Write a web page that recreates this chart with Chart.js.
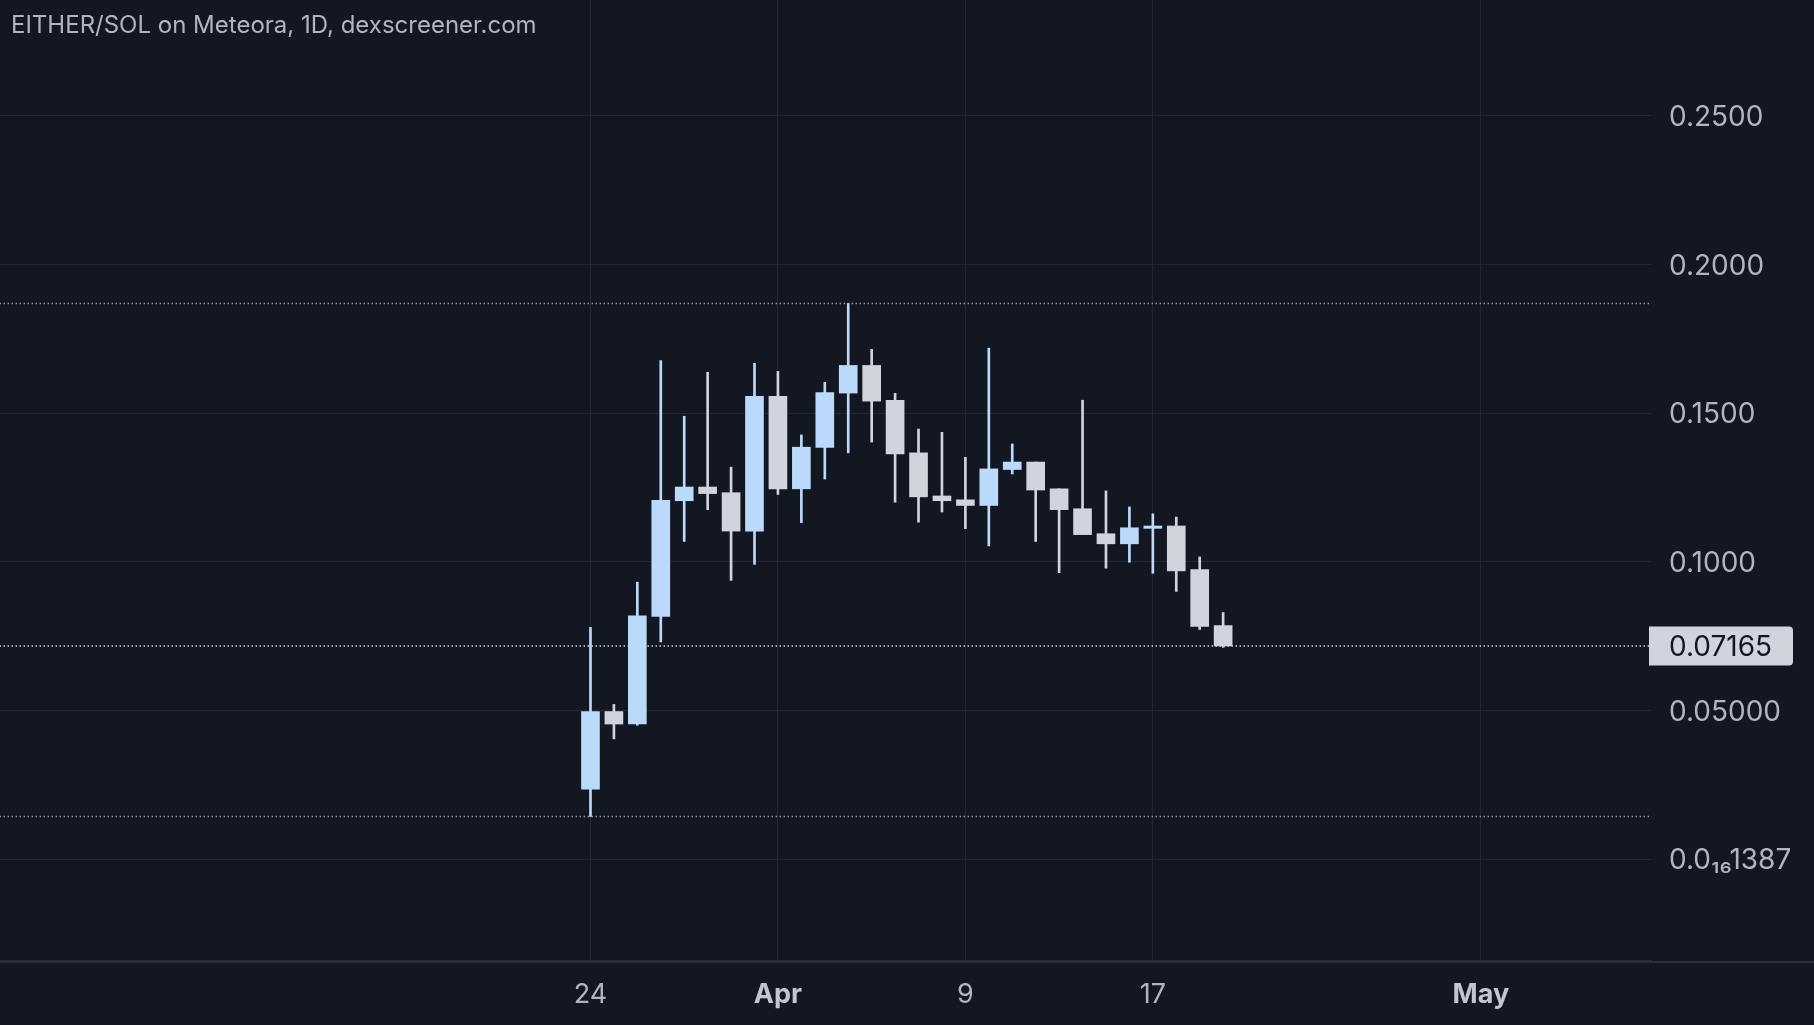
<!DOCTYPE html>
<html>
<head>
<meta charset="utf-8">
<title>EITHER/SOL</title>
<script src="https://cdn.jsdelivr.net/npm/chart.js@4.4.1/dist/chart.umd.min.js"></script>
<style>
  html, body { margin: 0; padding: 0; background: #131722; }
  #wrap { width: 1814px; height: 1025px; position: relative; }
</style>
</head>
<body>
<div id="wrap"><canvas id="myChart"></canvas></div>
<script>
// dias desde el 24 de marzo
const dias = [0, 1, 2, 3, 4, 5, 6, 7, 8, 9, 10, 11, 12, 13, 14, 15, 16, 17, 18, 19, 20, 21, 22, 23, 24, 25, 26, 27];
const fechas = ["Mar 24", "Mar 25", "Mar 26", "Mar 27", "Mar 28", "Mar 29", "Mar 30", "Mar 31",
  "Apr 1", "Apr 2", "Apr 3", "Apr 4", "Apr 5", "Apr 6", "Apr 7", "Apr 8", "Apr 9", "Apr 10",
  "Apr 11", "Apr 12", "Apr 13", "Apr 14", "Apr 15", "Apr 16", "Apr 17", "Apr 18", "Apr 19", "Apr 20"];
const apertura = [0.0235, 0.0496, 0.0454, 0.0816, 0.1205, 0.1251, 0.1232, 0.1103, 0.1556, 0.1245,
  0.1384, 0.1567, 0.1660, 0.1543, 0.1366, 0.1221, 0.1208, 0.1189, 0.1310, 0.1335,
  0.1245, 0.1178, 0.1094, 0.1060, 0.1112, 0.1120, 0.0973, 0.0785];
const maximo = [0.0779, 0.0520, 0.0931, 0.1676, 0.1489, 0.1637, 0.1318, 0.1667, 0.1640, 0.1426,
  0.1603, 0.1868, 0.1714, 0.1566, 0.1446, 0.1435, 0.1351, 0.1718, 0.1396, 0.1335,
  0.1245, 0.1543, 0.1238, 0.1184, 0.1161, 0.1150, 0.1016, 0.0829];
const minimo = [0.0143, 0.0404, 0.0450, 0.0730, 0.1068, 0.1175, 0.0937, 0.0991, 0.1226, 0.1131,
  0.1278, 0.1366, 0.1402, 0.1200, 0.1133, 0.1167, 0.1111, 0.1053, 0.1295, 0.1068,
  0.0963, 0.1091, 0.0978, 0.0998, 0.0961, 0.0900, 0.0772, 0.07120];
const cierre = [0.0496, 0.0454, 0.0818, 0.1206, 0.1251, 0.1229, 0.1103, 0.1556, 0.1245, 0.1385,
  0.1569, 0.1660, 0.1540, 0.1362, 0.1218, 0.1205, 0.1189, 0.1312, 0.1335, 0.1241,
  0.1175, 0.1091, 0.1060, 0.1114, 0.1120, 0.0969, 0.0782, 0.07165];

const diasTicks = [0, 8, 16, 24, 38];
const etiquetasX = ["24", "Apr", "9", "17", "May"];
const valoresY = [0, 0.05, 0.1, 0.15, 0.2, 0.25];
const etiquetasY = ["0.0\u2081\u20861387", "0.05000", "0.1000", "0.1500", "0.2000", "0.2500"];

const titulo = "EITHER/SOL on Meteora, 1D, dexscreener.com";
const colorSube = "#bbd9fb";
const colorBaja = "#d1d4dc";
const fondo = "#131722";
const rejilla = "#232733";

const colores = apertura.map((o, i) => (cierre[i] >= o ? colorSube : colorBaja));
const ultimo = cierre[cierre.length - 1];
const maxAlto = Math.max(...maximo);
const minBajo = Math.min(...minimo);

const esMes = (v) => isNaN(Number(etiquetasX[diasTicks.indexOf(v)]));

const lineaPunteada = (valor, color) => ({
  type: "line",
  data: [{ x: -30, y: valor }, { x: 50, y: valor }],
  borderColor: color,
  borderWidth: 1.5,
  borderDash: [1.5, 2.5],
  pointRadius: 0,
  order: 5,
});

const pluginExtras = {
  id: "extras",
  beforeDraw(chart) {
    const c = chart.ctx;
    c.save();
    c.fillStyle = fondo;
    c.fillRect(0, 0, chart.width, chart.height);
    c.restore();
  },
  afterDraw(chart) {
    const c = chart.ctx;
    const area = chart.chartArea;
    const y = chart.scales.y.getPixelForValue(ultimo);
    c.save();
    // linea inferior a todo lo ancho
    c.strokeStyle = "#2a2e39";
    c.lineWidth = 2;
    c.beginPath();
    c.moveTo(0, area.bottom + 1);
    c.lineTo(chart.width, area.bottom + 1);
    c.stroke();
    // etiqueta del ultimo precio
    const x0 = area.right - 2, x1 = 1793, h = 39, r = 4;
    c.fillStyle = colorBaja;
    c.beginPath();
    c.moveTo(x0, y - h / 2);
    c.lineTo(x1 - r, y - h / 2);
    c.quadraticCurveTo(x1, y - h / 2, x1, y - h / 2 + r);
    c.lineTo(x1, y + h / 2 - r);
    c.quadraticCurveTo(x1, y + h / 2, x1 - r, y + h / 2);
    c.lineTo(x0, y + h / 2);
    c.closePath();
    c.fill();
    c.fillStyle = "#131722";
    c.font = "28px Inter";
    c.textBaseline = "middle";
    c.textAlign = "left";
    c.fillText(ultimo.toFixed(5), 1669, y + 2);
    // titulo
    c.fillStyle = "#b2b5be";
    c.font = "24px Inter";
    c.fillText(titulo, 11, 26);
    c.restore();
  },
};

const config = {
  type: "bar",
  data: {
    datasets: [
      {
        label: "mecha",
        data: dias.map((d, i) => ({ x: d, y: [minimo[i], maximo[i]] })),
        backgroundColor: colores,
        barThickness: 2,
        grouped: false,
        borderWidth: 0,
        order: 2,
      },
      {
        label: "cuerpo",
        data: dias.map((d, i) => ({ x: d, y: [apertura[i], cierre[i]] })),
        backgroundColor: colores,
        barThickness: 18,
        grouped: false,
        borderWidth: 0,
        borderSkipped: false,
        order: 1,
      },
      lineaPunteada(maxAlto, "#9598a1"),
      lineaPunteada(minBajo, "#9598a1"),
      lineaPunteada(ultimo, "#d8dae0"),
    ],
  },
  options: {
    responsive: true,
    maintainAspectRatio: false,
    animation: false,
    layout: { padding: 0 },
    plugins: { legend: { display: false }, tooltip: { enabled: false } },
    scales: {
      x: {
        type: "linear",
        offset: false,
        min: -25.2,
        max: 45.26,
        afterBuildTicks: (scale) => { scale.ticks = diasTicks.map((v) => ({ value: v })); },
        afterFit: (scale) => {
          scale.height = 64;
          scale.paddingLeft = 0;
          scale.paddingRight = 0;
        },
        grid: { color: rejilla, drawTicks: false, offset: false },
        border: { color: "#2a2e39", width: 2 },
        ticks: {
          padding: 18,
          maxRotation: 0,
          autoSkip: false,
          color: (c) => (c.tick && esMes(c.tick.value) ? "#c3c6ce" : "#b2b5be"),
          font: (c) => ({
            family: "Inter",
            size: 27,
            weight: c.tick && esMes(c.tick.value) ? "bold" : "normal",
          }),
          callback: (v) => etiquetasX[diasTicks.indexOf(v)],
        },
      },
      y: {
        position: "right",
        min: -0.0343,
        max: 0.2889,
        afterBuildTicks: (scale) => { scale.ticks = valoresY.map((v) => ({ value: v })); },
        afterFit: (scale) => {
          scale.width = 163;
          scale.paddingTop = 0;
          scale.paddingBottom = 0;
        },
        grid: { color: rejilla, drawTicks: false },
        border: { display: false },
        ticks: {
          padding: 18,
          labelOffset: 2,
          color: "#b2b5be",
          font: { family: "Inter", size: 28 },
          callback: (v) => etiquetasY[valoresY.indexOf(v)],
        },
      },
    },
  },
  plugins: [pluginExtras],
};

new Chart(document.getElementById("myChart"), config);
</script>
</body>
</html>
